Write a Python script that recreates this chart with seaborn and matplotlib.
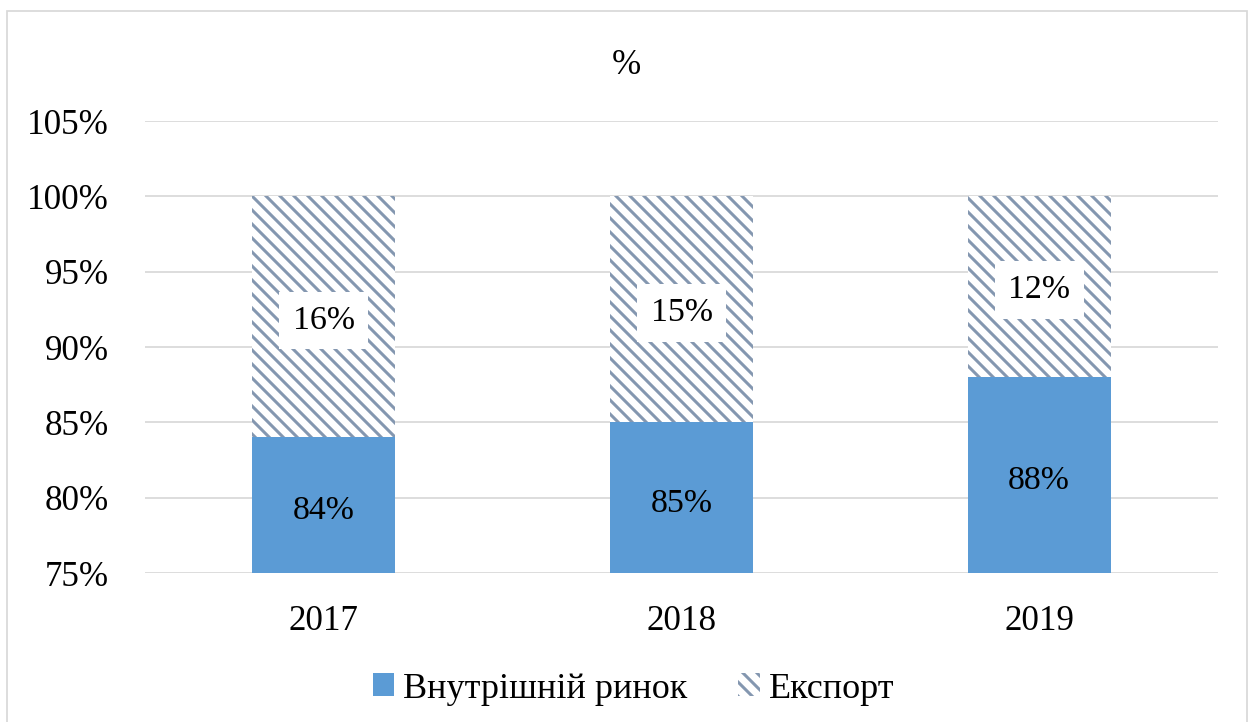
import numpy as np
import pandas as pd
import seaborn as sns
import matplotlib.pyplot as plt
from matplotlib.patches import Patch, Rectangle
from matplotlib.ticker import PercentFormatter

# data
years = ['2017', '2018', '2019']
internal = [84, 85, 88]      # Внутрішній ринок
export = [16, 15, 12]        # Експорт

df = pd.DataFrame({'year': years, 'internal': internal, 'export': export})
df['total'] = df['internal'] + df['export']

blue = '#5B9BD5'
hatch_col = '#8497B0'
grid_col = '#D9D9D9'

sns.set_style('white')
plt.rcParams['font.family'] = ['Liberation Serif', 'DejaVu Serif']
plt.rcParams['hatch.linewidth'] = 2.6
plt.rcParams['text.color'] = 'black'
plt.rcParams['xtick.color'] = 'black'
plt.rcParams['ytick.color'] = 'black'

DPI = 84
fig = plt.figure(figsize=(1252 / DPI, 722 / DPI), dpi=DPI)
ax = fig.add_axes([145 / 1252, 1 - 573 / 722, (1218 - 145) / 1252, (573 - 121) / 722])

# export part drawn as full hatched bar, internal market on top
sns.barplot(data=df, x='year', y='total', color='white', width=0.4, saturation=1,
            hatch='\\\\', edgecolor=hatch_col, linewidth=0, ax=ax, zorder=2)
sns.barplot(data=df, x='year', y='internal', color=blue, width=0.4, saturation=1,
            linewidth=0, ax=ax, zorder=3)

ax.set_ylim(75, 105)
ax.set_yticks(np.arange(75, 106, 5))
ax.yaxis.set_major_formatter(PercentFormatter(decimals=0))
ax.set_xlabel('')
ax.set_ylabel('')
ax.grid(axis='y', color=grid_col, linewidth=1.5, zorder=0)
ax.set_axisbelow(True)
for s in ax.spines.values():
    s.set_visible(False)
ax.tick_params(axis='y', length=0, pad=31, labelsize=30)
ax.tick_params(axis='x', length=0, pad=27, labelsize=30)

# labels
for i, row in df.iterrows():
    ax.annotate(f"{row['internal']}%", (i, 75 + (row['internal'] - 75) / 2),
                xytext=(0, -5), textcoords='offset points', ha='center', va='center',
                fontsize=29, zorder=5)
    ax.annotate(f"{row['export']}%", (i, row['internal'] + row['export'] / 2),
                xytext=(0, -3), textcoords='offset points', ha='center', va='center',
                fontsize=29, zorder=5,
                bbox=dict(boxstyle='square,pad=0.4', facecolor='white', edgecolor='none'))

fig.text(0.5, 1 - 65 / 722, '%', ha='center', va='center', fontsize=30)

handles = [Patch(facecolor=blue, edgecolor=blue, linewidth=0, label='Внутрішній ринок'),
           Patch(facecolor='white', edgecolor=hatch_col, linewidth=0, hatch='\\\\', label='Експорт')]
fig.legend(handles=handles, loc='center', bbox_to_anchor=(0.506, 1 - 689 / 722), ncol=2,
           frameon=False, fontsize=31, handlelength=0.6, handleheight=0.6,
           handletextpad=0.25, columnspacing=1.4)

fig.patches.append(Rectangle((7 / 1252, -0.05), 1240 / 1252, 1 - 11 / 722 + 0.05,
                             transform=fig.transFigure, fill=False, edgecolor=grid_col,
                             linewidth=1.5, zorder=0))

fig.savefig('out.png', dpi=DPI)
